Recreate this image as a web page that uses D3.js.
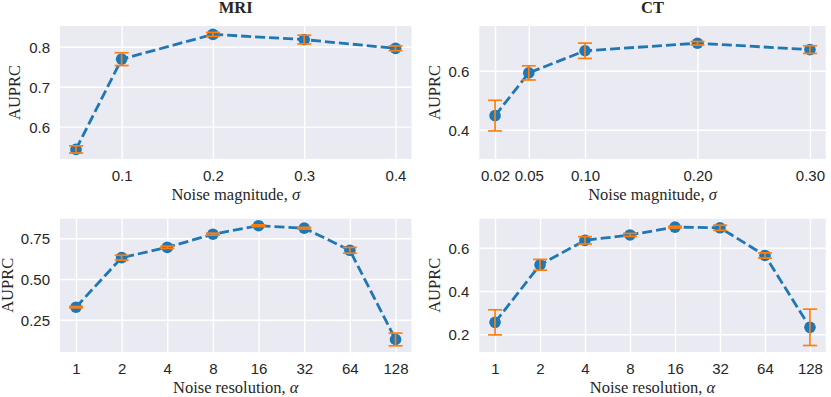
<!DOCTYPE html>
<html><head><meta charset="utf-8">
<script src="https://cdn.jsdelivr.net/npm/d3@7"></script>
<style>
html,body{margin:0;padding:0;background:#fff;}
svg{display:block;}
</style></head>
<body>
<svg id="chart" width="831" height="397"></svg>
<script>
// ---- data ----
const mriSigma = [0.05, 0.1, 0.2, 0.3, 0.4];
const mriSigmaMean = [0.543, 0.769, 0.831, 0.818, 0.796];
const mriSigmaErr = [0.009, 0.016, 0.005, 0.011, 0.006];

const ctSigma = [0.02, 0.05, 0.10, 0.20, 0.30];
const ctSigmaMean = [0.448, 0.593, 0.668, 0.6935, 0.672];
const ctSigmaErr = [0.052, 0.024, 0.026, 0.006, 0.013];

const resolutions = [1, 2, 4, 8, 16, 32, 64, 128];
const mriResMean = [0.327, 0.631, 0.694, 0.775, 0.827, 0.812, 0.676, 0.129];
const mriResErr = [0.004, 0.015, 0.007, 0.006, 0.005, 0.005, 0.018, 0.039];
const ctResMean = [0.255, 0.521, 0.634, 0.659, 0.695, 0.692, 0.564, 0.232];
const ctResErr = [0.058, 0.025, 0.017, 0.007, 0.004, 0.012, 0.012, 0.084];

const mriSigmaTicks = [0.1, 0.2, 0.3, 0.4];
const ctSigmaTicks = [0.02, 0.05, 0.10, 0.20, 0.30];
const mriSigmaYTicks = [0.6, 0.7, 0.8];
const ctSigmaYTicks = [0.4, 0.6];
const mriResYTicks = [0.25, 0.50, 0.75];
const ctResYTicks = [0.2, 0.4, 0.6];

const titles = ["MRI", "CT"];
const xLabelSigma = "Noise magnitude, ";
const xLabelRes = "Noise resolution, ";
const yLabel = "AUPRC";

// ---- layout ----
const svg = d3.select("#chart");
const colX = [[60, 411.5], [479.3, 825.7]];
const rowY = [[26, 159], [218.7, 352]];

const panels = [
  {col:0,row:0, x:mriSigma, y:mriSigmaMean, e:mriSigmaErr, xs:d3.scaleLinear().domain([0.0325,0.4175]),
   xt:mriSigmaTicks, xf:d3.format(".1f"), yd:[0.519,0.852], yt:mriSigmaYTicks, yf:d3.format(".1f"), title:titles[0], xl:xLabelSigma, sym:"σ", ylx:14.5},
  {col:1,row:0, x:ctSigma, y:ctSigmaMean, e:ctSigmaErr, xs:d3.scaleLinear().domain([0.006,0.314]),
   xt:ctSigmaTicks, xf:d3.format(".2f"), yd:[0.301,0.752], yt:ctSigmaYTicks, yf:d3.format(".1f"), title:titles[1], xl:xLabelSigma, sym:"σ", ylx:434},
  {col:0,row:1, x:resolutions, y:mriResMean, e:mriResErr, xs:d3.scaleLog().base(2).domain([Math.pow(2,-0.35),Math.pow(2,7.35)]),
   xt:resolutions, xf:d3.format("d"), yd:[0.052,0.870], yt:mriResYTicks, yf:d3.format(".2f"), title:null, xl:xLabelRes, sym:"α", ylx:7.5},
  {col:1,row:1, x:resolutions, y:ctResMean, e:ctResErr, xs:d3.scaleLog().base(2).domain([Math.pow(2,-0.35),Math.pow(2,7.35)]),
   xt:resolutions, xf:d3.format("d"), yd:[0.118,0.734], yt:ctResYTicks, yf:d3.format(".1f"), title:null, xl:xLabelRes, sym:"α", ylx:434},
];

const blue = "#1f77b4", orange = "#ff7f0e";
const serif = "'Liberation Serif','Times New Roman',serif";
const sans = "'Liberation Sans',Arial,Helvetica,sans-serif";

panels.forEach(p => {
  const [x0, x1] = colX[p.col];
  const [y0, y1] = rowY[p.row];
  const xs = p.xs.range([x0, x1]);
  const ys = d3.scaleLinear().domain(p.yd).range([y1, y0]);
  const g = svg.append("g");

  g.append("rect").attr("x", x0).attr("y", y0).attr("width", x1 - x0).attr("height", y1 - y0).attr("fill", "#eaeaf2");

  const gx = g.append("g").attr("transform", `translate(0,${y1})`)
    .call(d3.axisBottom(xs).tickValues(p.xt).tickFormat(p.xf).tickSize(-(y1 - y0)).tickPadding(11));
  const gy = g.append("g").attr("transform", `translate(${x0},0)`)
    .call(d3.axisLeft(ys).tickValues(p.yt).tickFormat(p.yf).tickSize(-(x1 - x0)).tickPadding(10));
  [gx, gy].forEach(a => {
    a.select(".domain").remove();
    a.selectAll(".tick line").attr("stroke", "#fff").attr("stroke-width", 1.4);
    a.selectAll(".tick text").attr("fill", "#262626").style("font-family", sans).style("font-size", "15px");
  });
  gy.selectAll(".tick text").attr("dy", "0.36em");

  const pts = p.x.map((v, i) => [xs(v), ys(p.y[i])]);
  g.append("path").attr("d", d3.line()(pts)).attr("fill", "none").attr("stroke", blue)
    .attr("stroke-width", 2.8).attr("stroke-dasharray", "10,4");
  g.selectAll("circle.m").data(pts).enter().append("circle")
    .attr("cx", d => d[0]).attr("cy", d => d[1]).attr("r", 5.8).attr("fill", blue);

  const cap = 7;
  p.x.forEach((v, i) => {
    const cx = xs(v), top = ys(p.y[i] + p.e[i]), bot = ys(p.y[i] - p.e[i]);
    g.append("line").attr("x1", cx).attr("x2", cx).attr("y1", top).attr("y2", bot).attr("stroke", orange).attr("stroke-width", 1.7);
    [top, bot].forEach(yy => g.append("line").attr("x1", cx - cap).attr("x2", cx + cap).attr("y1", yy).attr("y2", yy)
      .attr("stroke", orange).attr("stroke-width", 1.7));
  });

  const xl = g.append("text").attr("x", (x0 + x1) / 2).attr("y", y1 + 40.5).attr("text-anchor", "middle")
    .style("font-family", serif).style("font-size", "16.5px").attr("fill", "#262626");
  xl.append("tspan").text(p.xl);
  xl.append("tspan").style("font-style", "italic").text(p.sym);

  g.append("text").attr("transform", `translate(${p.ylx + 5.5},${(y0 + y1) / 2}) rotate(-90)`).attr("text-anchor", "middle")
    .style("font-family", serif).style("font-size", "16.5px").attr("fill", "#262626").text(yLabel);

  if (p.title) {
    g.append("text").attr("x", (x0 + x1) / 2).attr("y", 12.7).attr("text-anchor", "middle")
      .style("font-family", serif).style("font-size", "16.5px").style("font-weight", "bold").attr("fill", "#262626").text(p.title);
  }
});
</script>
</body></html>
